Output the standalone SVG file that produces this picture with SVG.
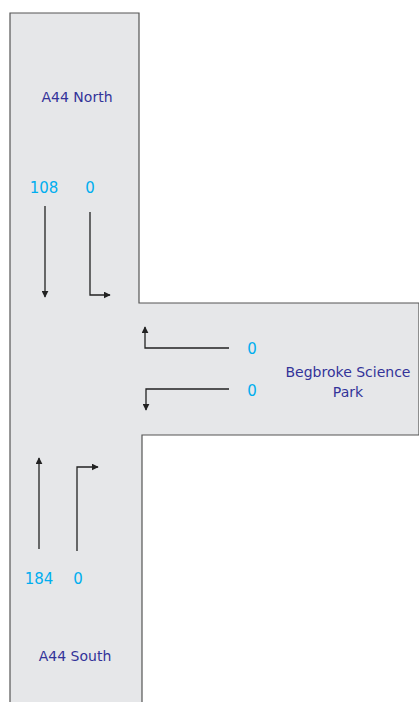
<svg xmlns="http://www.w3.org/2000/svg" width="419" height="702" viewBox="0 0 419 702">
<style>
.road{fill:#e6e7e9;stroke:#555;stroke-width:1.2}
.arr{fill:none;stroke:#222;stroke-width:1.3}
.lbl{font-family:"DejaVu Sans",sans-serif;font-size:14px;fill:#333399;text-anchor:middle}
.num{font-family:"DejaVu Sans",sans-serif;font-size:15px;fill:#00aeef;text-anchor:middle}
</style>
<defs>
<marker id="ah" viewBox="0 0 10 10" refX="9" refY="5" markerWidth="7" markerHeight="7" markerUnits="userSpaceOnUse" orient="auto">
<path d="M0,0 L10,5 L0,10 Z" fill="#222"/>
</marker>
</defs>
<g id="road">
<path class="road" d="M10,702 L10,13 L139,13 L139,303 L419,303 L419,435 L142,435 L142,702"/>
</g>
<g id="connectors">
<path class="arr" d="M45,206 L45,297" marker-end="url(#ah)"/>
<path class="arr" d="M90,212 L90,295 L110,295" marker-end="url(#ah)"/>
<path class="arr" d="M229,348 L145,348 L145,327" marker-end="url(#ah)"/>
<path class="arr" d="M229,389 L146,389 L146,410" marker-end="url(#ah)"/>
<path class="arr" d="M39,549 L39,458" marker-end="url(#ah)"/>
<path class="arr" d="M77,551 L77,467 L98,467" marker-end="url(#ah)"/>
</g>
<g id="north">
<text class="lbl" x="77" y="102">A44 North</text>
<text class="num" x="44" y="193">108</text>
<text class="num" x="90" y="193">0</text>
</g>
<g id="science-park">
<text class="num" x="252" y="354">0</text>
<text class="num" x="252" y="396">0</text>
<text class="lbl" x="348" y="377">Begbroke Science</text>
<text class="lbl" x="348" y="397">Park</text>
</g>
<g id="south">
<text class="num" x="39" y="584">184</text>
<text class="num" x="78" y="584">0</text>
<text class="lbl" x="75" y="661">A44 South</text>
</g>
</svg>
